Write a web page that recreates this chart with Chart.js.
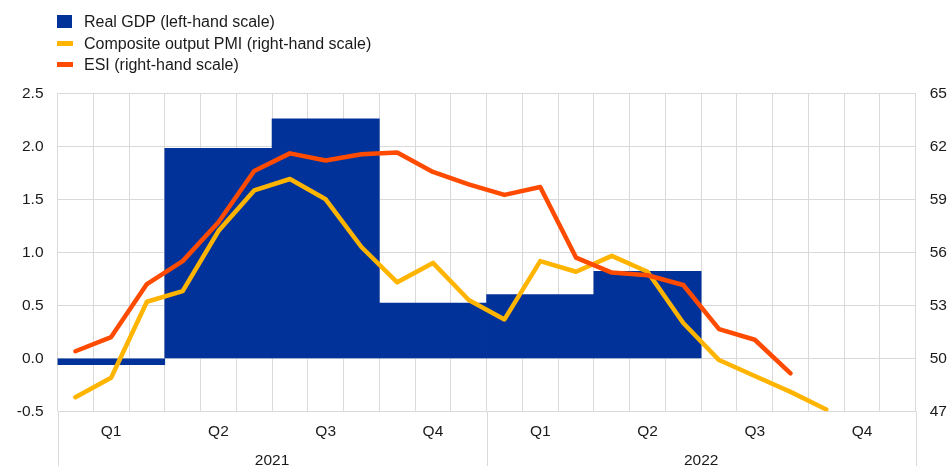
<!DOCTYPE html>
<html>
<head>
<meta charset="utf-8">
<script src="https://cdn.jsdelivr.net/npm/chart.js@4"></script>
<style>
  body { margin: 0; background: #fff; font-family: "Liberation Sans", Arial, sans-serif; }
  #wrap { position: relative; width: 949px; height: 466px; }
  #legend { position: absolute; left: 57px; top: 11px; font-size: 16px; color: #1a1a1a; }
  .item { position: relative; height: 21.5px; line-height: 21.5px; padding-left: 27px; white-space: nowrap; }
  .sw { position: absolute; left: 0; }
  .box { top: 4px; width: 15px; height: 13px; }
  .ln { top: 8px; width: 16px; height: 5px; }
</style>
</head>
<body>
<div id="wrap">
  <canvas id="chart" width="949" height="466"></canvas>
  <div id="legend">
    <div class="item"><span class="sw box" style="background:#003299"></span>Real GDP (left-hand scale)</div>
    <div class="item"><span class="sw ln" style="background:#ffb400"></span>Composite output PMI (right-hand scale)</div>
    <div class="item"><span class="sw ln" style="background:#ff4b00"></span>ESI (right-hand scale)</div>
  </div>
</div>
<script>
const months = ['Jan 21', 'Feb 21', 'Mar 21', 'Apr 21', 'May 21', 'Jun 21',
  'Jul 21', 'Aug 21', 'Sep 21', 'Oct 21', 'Nov 21', 'Dec 21',
  'Jan 22', 'Feb 22', 'Mar 22', 'Apr 22', 'May 22', 'Jun 22',
  'Jul 22', 'Aug 22', 'Sep 22', 'Oct 22', 'Nov 22', 'Dec 22'];
const quarters = ['Q1', 'Q2', 'Q3', 'Q4', 'Q1', 'Q2', 'Q3', 'Q4'];
const years = ['2021', '2022'];

// quarter-on-quarter real GDP growth, left-hand scale
const gdp = [-0.06, 1.98, 2.26, 0.52, 0.60, 0.82, null, null];
// monthly indicators, right-hand scale
const pmi = [47.8, 48.9, 53.2, 53.8, 57.2, 59.5, 60.15, 59.0, 56.3, 54.3, 55.4, 53.3,
  52.2, 55.5, 54.9, 55.8, 54.9, 52.0, 49.9, 49.0, 48.1, 47.1];
const esi = [50.4, 51.2, 54.2, 55.5, 57.7, 60.6, 61.6, 61.2, 61.55, 61.65, 60.55, 59.85,
  59.25, 59.7, 55.7, 54.85, 54.7, 54.15, 51.65, 51.05, 49.15];

const leftTicks = [-0.5, 2.5, 0.5];
const rightTicks = [47, 65, 3];

const gridColor = '#d9d9d9';
const textColor = '#1a1a1a';
const font = { family: '"Liberation Sans", Arial, sans-serif', size: 15.5, lineHeight: 1 };

// pin axis sizes so the plot area lands where the original has it
function fixSize(w, h) {
  return scale => {
    if (w !== null) scale.width = w;
    if (h !== null) scale.height = h;
    scale.paddingLeft = scale.paddingRight = scale.paddingTop = scale.paddingBottom = 0;
  };
}

// vertical separators below the plot (axis edges and year break)
const yearLines = {
  id: 'yearLines',
  afterDraw(chart) {
    const { ctx, chartArea, scales } = chart;
    const x = scales.x;
    const mid = (x.getPixelForValue(11) + x.getPixelForValue(12)) / 2;
    ctx.save();
    ctx.strokeStyle = gridColor;
    ctx.lineWidth = 1;
    [chartArea.left, mid, chartArea.right].forEach(px => {
      const p = Math.round(px) + 0.5;
      ctx.beginPath();
      ctx.moveTo(p, chartArea.bottom);
      ctx.lineTo(p, chart.height);
      ctx.stroke();
    });
    ctx.restore();
  }
};

new Chart(document.getElementById('chart'), {
  type: 'bar',
  data: {
    labels: months,
    datasets: [
      {
        type: 'line', label: 'ESI (right-hand scale)', data: esi,
        xAxisID: 'x', yAxisID: 'y1', order: 1,
        borderColor: '#ff4b00', borderWidth: 4.5, pointRadius: 0, tension: 0,
        borderCapStyle: 'round', borderJoinStyle: 'round'
      },
      {
        type: 'line', label: 'Composite output PMI (right-hand scale)', data: pmi,
        xAxisID: 'x', yAxisID: 'y1', order: 2,
        borderColor: '#ffb400', borderWidth: 4.5, pointRadius: 0, tension: 0,
        borderCapStyle: 'round', borderJoinStyle: 'round'
      },
      {
        type: 'bar', label: 'Real GDP (left-hand scale)', data: gdp,
        xAxisID: 'qtr', yAxisID: 'y', order: 3, grouped: false,
        backgroundColor: '#003299', borderWidth: 0,
        barPercentage: 1, categoryPercentage: 1
      }
    ]
  },
  options: {
    responsive: false,
    animation: false,
    devicePixelRatio: 1,
    layout: { padding: { top: 93.3, left: 0, right: 0, bottom: 0 } },
    plugins: { legend: { display: false }, tooltip: { enabled: false } },
    scales: {
      x: {
        type: 'category', position: 'bottom', offset: true,
        grid: { color: gridColor, offset: true, drawTicks: false },
        border: { display: false },
        ticks: { display: false },
        afterFit: fixSize(null, 0)
      },
      qtr: {
        type: 'category', position: 'bottom', labels: quarters, offset: true,
        grid: { display: false, drawTicks: false }, border: { display: false },
        ticks: { color: textColor, font, padding: 12.5, autoSkip: false, maxRotation: 0 },
        afterFit: fixSize(null, 28)
      },
      year: {
        type: 'category', position: 'bottom', labels: years, offset: true,
        grid: { display: false, drawTicks: false }, border: { display: false },
        ticks: { color: textColor, font, padding: 13.5, autoSkip: false, maxRotation: 0 },
        afterFit: fixSize(null, 26.7)
      },
      y: {
        position: 'left', min: leftTicks[0], max: leftTicks[1],
        grid: { color: gridColor, drawTicks: false }, border: { display: false },
        ticks: { stepSize: leftTicks[2], color: textColor, font, padding: 14,
          callback: v => v.toFixed(1) },
        afterFit: fixSize(57.5, null)
      },
      y1: {
        position: 'right', min: rightTicks[0], max: rightTicks[1],
        grid: { display: false, drawTicks: false }, border: { display: false },
        ticks: { stepSize: rightTicks[2], color: textColor, font, padding: 14 },
        afterFit: fixSize(33.3, null)
      }
    }
  },
  plugins: [yearLines]
});
</script>
</body>
</html>
